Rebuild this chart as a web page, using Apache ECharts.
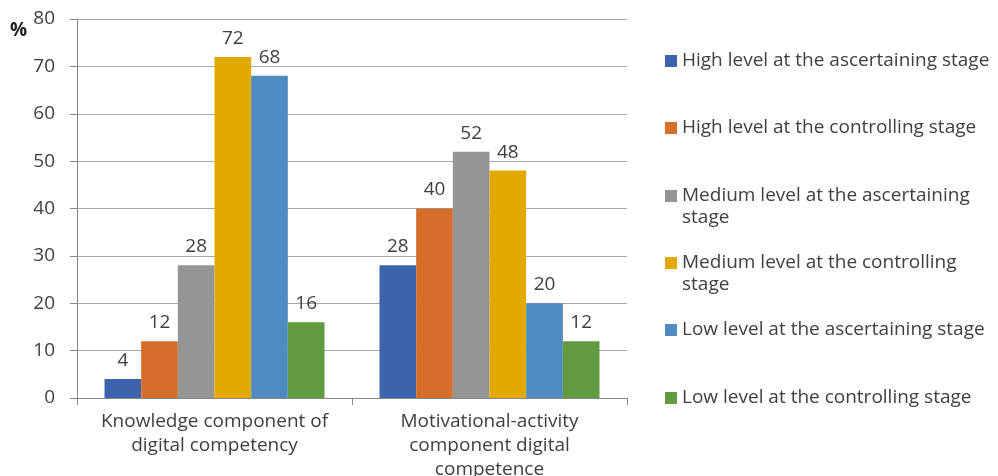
<!DOCTYPE html>
<html>
<head>
<meta charset="utf-8">
<script src="https://cdn.jsdelivr.net/npm/echarts@6/dist/echarts.min.js"></script>
<style>
html, body { margin: 0; padding: 0; background: #fff; }
#main { width: 998px; height: 476px; }
</style>
</head>
<body>
<div id="main"></div>
<script>
var categories = ['Knowledge component of\ndigital competency', 'Motivational-activity\ncomponent digital\ncompetence'];
var seriesNames = [
	'High level at the ascertaining stage',
	'High level at the controlling stage',
	'Medium level at the ascertaining stage',
	'Medium level at the controlling stage',
	'Low level at the ascertaining stage',
	'Low level at the controlling stage'
];
// legend text as it wraps in the picture
var legendText = [
	'High level at the ascertaining stage',
	'High level at the controlling stage',
	'Medium level at the ascertaining\nstage',
	'Medium level at the controlling\nstage',
	'Low level at the ascertaining stage',
	'Low level at the controlling stage'
];
var highAscertaining = [4, 28];
var highControlling = [12, 40];
var mediumAscertaining = [28, 52];
var mediumControlling = [72, 48];
var lowAscertaining = [68, 20];
var lowControlling = [16, 12];
var values = [highAscertaining, highControlling, mediumAscertaining, mediumControlling, lowAscertaining, lowControlling];
var colors = ['#3d63ad', '#d56e2b', '#959595', '#e2a900', '#4f8bc0', '#629b3f'];

var FONT = 'Open Sans';
var FS = 19;
var TXT = '#404040';
var legendY = [61, 128, 196, 263, 330, 398]; // centre of first line

var legends = [];
var series = [];
for (var i = 0; i < seriesNames.length; i++) {
	var twoLine = legendText[i].indexOf('\n') >= 0;
	// empty first line keeps the icon level with the first text line
	var txt = twoLine ? '\n' + legendText[i] : legendText[i];
	legends.push({
		orient: 'vertical',
		left: 665,
		top: twoLine ? legendY[i] - 33 : legendY[i] - 11,
		padding: 0,
		itemWidth: 12,
		itemHeight: 12,
		icon: 'rect',
		data: [seriesNames[i]],
		formatter: (function (t) { return function () { return t; }; })(txt),
		textStyle: {
			fontFamily: FONT,
			fontSize: FS,
			color: TXT,
			lineHeight: 22
		}
	});
	series.push({
		name: seriesNames[i],
		type: 'bar',
		data: values[i],
		barGap: 0,
		barCategoryGap: '20%',
		itemStyle: { color: colors[i] },
		label: {
			show: true,
			position: 'top',
			distance: 9,
			fontFamily: FONT,
			fontSize: FS,
			color: TXT
		}
	});
}

var chart = echarts.init(document.getElementById('main'));
var option = {
	animation: false,
	backgroundColor: '#fff',
	legend: legends,
	grid: { left: 77, right: 371, top: 19, bottom: 78, outerBoundsMode: 'none' },
	xAxis: {
		type: 'category',
		data: categories,
		axisLine: { lineStyle: { color: '#868686' } },
		axisTick: { show: true, length: 7, lineStyle: { color: '#868686' } },
		axisLabel: {
			fontFamily: FONT,
			fontSize: FS,
			color: TXT,
			lineHeight: 24,
			margin: 12,
			interval: 0
		}
	},
	yAxis: {
		type: 'value',
		min: 0,
		max: 80,
		interval: 10,
		name: '%',
		nameLocation: 'end',
		nameGap: -2,
		nameTextStyle: {
			fontFamily: FONT,
			fontSize: 19,
			fontWeight: 'bold',
			color: '#222',
			align: 'right',
			verticalAlign: 'top',
			padding: [0, 50, 0, 0]
		},
		axisLine: { show: true, lineStyle: { color: '#868686' } },
		axisTick: { show: true, length: 7, lineStyle: { color: '#868686' } },
		axisLabel: { fontFamily: FONT, fontSize: FS, color: TXT, margin: 22 },
		splitLine: { lineStyle: { color: '#a6a6a6' } }
	},
	series: series
};
chart.setOption(option);
window.onresize = chart.resize;
</script>
</body>
</html>
